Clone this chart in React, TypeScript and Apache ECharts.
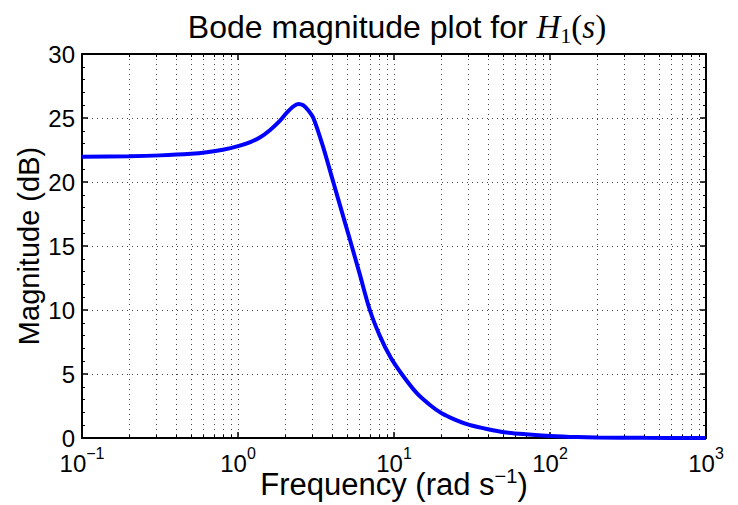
import React, { useEffect, useRef } from "react";
import * as echarts from "echarts";

// Frequency (rad/s) and magnitude (dB)
const freq = [0.1, 0.2, 0.316, 0.5, 0.63, 0.8, 1, 1.2, 1.38, 1.6, 1.86, 2.05, 2.26, 2.44, 2.62, 2.8, 3.04, 3.5, 4.08, 4.6, 5.16, 6, 7, 8.1, 9.5, 11.2, 14, 17, 20.2, 25, 30.4, 40, 50.7, 70, 100, 150, 200, 400, 1000];
const magDb = [21.98, 22.02, 22.08, 22.2, 22.32, 22.52, 22.8, 23.12, 23.48, 24.05, 24.8, 25.4, 25.9, 26.1, 26.0, 25.65, 25.0, 22.8, 20.0, 17.8, 15.7, 12.9, 10.0, 8.0, 6.3, 5.0, 3.5, 2.58, 1.93, 1.4, 1.02, 0.68, 0.45, 0.29, 0.16, 0.07, 0.04, 0.01, 0.0];

const xMajorTicks = [0.1, 1, 10, 100, 1000];
const xTickExponents = ["\u22121", "0", "1", "2", "3"];
const xMinorTicks = [
  0.2, 0.3, 0.4, 0.5, 0.6, 0.7, 0.8, 0.9,
  2, 3, 4, 5, 6, 7, 8, 9,
  20, 30, 40, 50, 60, 70, 80, 90,
  200, 300, 400, 500, 600, 700, 800, 900,
];
const yMin = 0;
const yMax = 30;
const yStep = 5;

const SANS = '"Liberation Sans", Arial, Helvetica, sans-serif';
const SERIF = '"Liberation Serif", "Times New Roman", serif';

export default function App() {
  const ref = useRef<HTMLDivElement>(null);
  useEffect(() => {
    if (!ref.current) return;
    const chart = echarts.init(ref.current, undefined, { renderer: "svg" });
    const dotted = { type: [1, 4] as any, color: "#444", width: 1 };
    const black = "#000";
    const gridRect = { left: 82, right: 32, top: 54, bottom: 67, containLabel: false, outerBoundsMode: "none" };
    const logBase = { type: "log" as const, logBase: 10, min: 0.1, max: 1000 };

    const option: any = {
      animation: false,
      backgroundColor: "#fff",
      title: {
        text: "Bode magnitude plot for {i|H}{sub|1}{n|(}{i|s}{n|)}",
        left: 392,
        top: 3,
        textAlign: "center",
        textStyle: {
          fontFamily: SANS,
          fontSize: 32,
          fontWeight: "normal",
          color: black,
          lineHeight: 38,
          rich: {
            i: { fontFamily: SERIF, fontStyle: "italic", fontSize: 33, lineHeight: 38, color: black },
            n: { fontFamily: SERIF, fontSize: 33, lineHeight: 38, color: black },
            sub: { fontFamily: SERIF, fontSize: 22, lineHeight: 24, verticalAlign: "bottom", color: black },
          },
        },
      },
      grid: [gridRect, { ...gridRect }],
      xAxis: [
        {
          ...logBase,
          gridIndex: 0,
          position: "bottom",
          axisLine: { show: true, onZero: false, lineStyle: { color: black, width: 2 } },
          axisTick: { show: true, inside: true, length: 6, lineStyle: { color: black, width: 1.5 } },
          axisLabel: {
            show: true,
            margin: 7,
            color: black,
            formatter: (v: number) => {
              const idx = xMajorTicks.findIndex((t) => Math.abs(Math.log10(t) - Math.log10(v)) < 1e-6);
              return idx >= 0 ? `{b|10}{sup|${xTickExponents[idx]}}` : "";
            },
            rich: {
              b: { fontFamily: SANS, fontSize: 24, lineHeight: 36, color: black },
              sup: { fontFamily: SANS, fontSize: 16, lineHeight: 15, verticalAlign: "top", color: black },
            },
          },
          splitLine: { show: true, lineStyle: dotted },
          name: "Frequency (rad s{sup|\u22121})",
          nameLocation: "middle",
          nameGap: 28,
          nameMoveOverlap: false,
          nameTextStyle: {
            fontFamily: SANS,
            fontSize: 31,
            color: black,
            lineHeight: 36,
            rich: {
              sup: { fontFamily: SANS, fontSize: 20, lineHeight: 17, verticalAlign: "top", color: black },
            },
          },
        },
        {
          ...logBase,
          gridIndex: 0,
          position: "top",
          axisLine: { show: true, onZero: false, lineStyle: { color: black, width: 2 } },
          axisTick: { show: true, inside: true, length: 6, lineStyle: { color: black, width: 1.5 } },
          axisLabel: { show: false },
          splitLine: { show: false },
        },
        {
          ...logBase,
          gridIndex: 1,
          position: "bottom",
          axisLine: { show: false },
          axisTick: { show: true, inside: true, length: 3, customValues: xMinorTicks, lineStyle: { color: black, width: 1 } },
          axisLabel: { show: false },
          splitLine: { show: true, lineStyle: dotted },
        },
        {
          ...logBase,
          gridIndex: 1,
          position: "top",
          axisLine: { show: false },
          axisTick: { show: true, inside: true, length: 3, customValues: xMinorTicks, lineStyle: { color: black, width: 1 } },
          axisLabel: { show: false },
          splitLine: { show: false },
        },
      ],
      yAxis: [
        {
          type: "value",
          gridIndex: 0,
          position: "left",
          min: yMin,
          max: yMax,
          interval: yStep,
          axisLine: { show: true, onZero: false, lineStyle: { color: black, width: 2 } },
          axisTick: { show: true, inside: true, length: 6, lineStyle: { color: black, width: 1.5 } },
          minorTick: { show: true, splitNumber: 5, length: 3, lineStyle: { color: black, width: 1 } },
          axisLabel: { show: true, margin: 7, color: black, fontFamily: SANS, fontSize: 24 },
          splitLine: { show: true, lineStyle: dotted },
          name: "Magnitude (dB)",
          nameLocation: "middle",
          nameGap: 39,
          nameMoveOverlap: false,
          nameTextStyle: { fontFamily: SANS, fontSize: 29, color: black },
        },
        {
          type: "value",
          gridIndex: 0,
          position: "right",
          min: yMin,
          max: yMax,
          interval: yStep,
          axisLine: { show: true, onZero: false, lineStyle: { color: black, width: 2 } },
          axisTick: { show: true, inside: true, length: 6, lineStyle: { color: black, width: 1.5 } },
          minorTick: { show: true, splitNumber: 5, length: 3, lineStyle: { color: black, width: 1 } },
          axisLabel: { show: false },
          splitLine: { show: false },
        },
        {
          type: "value",
          gridIndex: 1,
          min: yMin,
          max: yMax,
          show: false,
        },
      ],
      series: [
        {
          type: "line",
          xAxisIndex: 0,
          yAxisIndex: 0,
          data: freq.map((f, i) => [f, magDb[i]]),
          showSymbol: false,
          symbol: "none",
          smooth: 0.3,
          lineStyle: { color: "#0000ff", width: 4 },
          itemStyle: { color: "#0000ff" },
          z: 3,
        },
      ],
    };
    chart.setOption(option);
    return () => chart.dispose();
  }, []);
  return (
    <div
      ref={ref}
      style={{ position: "fixed", left: 0, top: 0, width: 738, height: 505, background: "#fff" }}
    />
  );
}
